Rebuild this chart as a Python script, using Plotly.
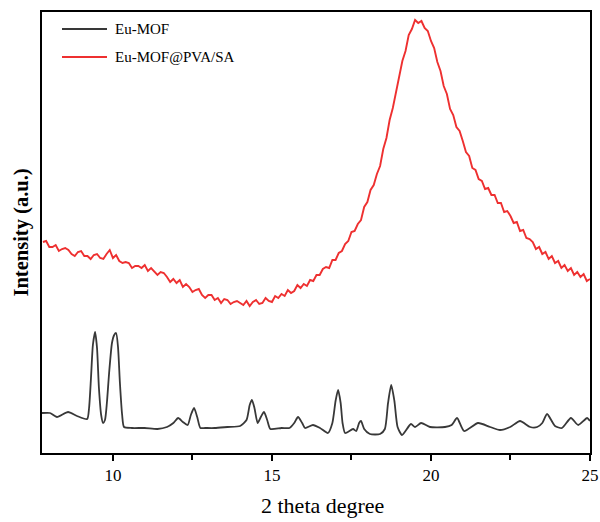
import plotly.graph_objects as go

# Eu-MOF (black) pattern
mof_x = [7.77, 8.02, 8.24, 8.59, 8.87, 9.19, 9.25, 9.31, 9.37, 9.44, 9.50, 9.56, 9.63, 9.69, 9.75, 9.81,
         9.88, 9.97, 10.04, 10.10, 10.16, 10.22, 10.29, 10.35, 10.6, 11.0, 11.4, 11.7, 11.9, 12.05, 12.2,
         12.35, 12.45, 12.55, 12.65, 12.75, 12.9, 13.2, 13.6, 14.0, 14.2, 14.3, 14.37, 14.45, 14.55, 14.65,
         14.75, 14.85, 14.95, 15.3, 15.55, 15.7, 15.82, 15.95, 16.04, 16.29, 16.51, 16.76, 16.9, 17.0, 17.08,
         17.16, 17.22, 17.30, 17.55, 17.65, 17.74, 17.80, 17.9, 18.08, 18.40, 18.55, 18.65, 18.75, 18.85,
         18.95, 19.09, 19.37, 19.50, 19.69, 19.97, 20.44, 20.65, 20.82, 21.04, 21.48, 21.86, 22.17, 22.49,
         22.80, 23.12, 23.34, 23.50, 23.65, 23.90, 24.12, 24.40, 24.63, 24.91, 25.0]
mof_y = [40, 40, 36, 41, 37, 34, 45, 75, 108, 121, 105, 65, 38, 30, 33, 50,
         80, 110, 118, 120, 106, 70, 38, 26, 25, 25, 24, 26, 30, 35, 31,
         28, 38, 45, 36, 25, 25, 25, 26, 27, 33, 48, 53, 45, 30, 36,
         41, 33, 24, 25, 25, 30, 36, 30, 25, 28, 25, 20, 30, 52, 63,
         50, 30, 20, 24, 22, 30, 32, 24, 19, 19, 24, 50, 68, 52,
         26, 18, 29, 26, 30, 26, 26, 28, 35, 22, 30, 26, 23, 26,
         32, 26, 26, 30, 39, 27, 25, 35, 28, 35, 32]

# Eu-MOF@PVA/SA (red) pattern, step 0.1 deg from 7.8 to 25.0
comp_x = [round(7.8 + 0.1 * i, 1) for i in range(173)]
comp_y = [211, 212, 206, 206, 208, 202, 204, 205, 203, 199, 197, 201, 202, 197, 197, 194, 198, 199, 195, 194,
          199, 203, 195, 198, 192, 190, 191, 190, 185, 187, 187, 185, 188, 182, 185, 181, 178, 181, 180, 176,
          171, 174, 170, 173, 166, 169, 166, 161, 163, 164, 158, 155, 158, 158, 153, 155, 150, 154, 153, 149,
          151, 152, 150, 148, 152, 147, 151, 153, 149, 150, 155, 152, 151, 157, 155, 159, 157, 163, 160, 162,
          168, 165, 169, 167, 173, 172, 178, 178, 184, 186, 185, 193, 193, 200, 202, 209, 212, 221, 222, 229,
          233, 246, 251, 263, 268, 279, 287, 304, 315, 333, 345, 362, 375, 392, 402, 418, 424, 433, 430, 432,
          425, 422, 412, 405, 391, 382, 367, 359, 344, 338, 326, 322, 312, 301, 297, 285, 283, 274, 272, 264,
          265, 258, 258, 250, 250, 241, 242, 237, 230, 231, 222, 223, 215, 214, 211, 204, 206, 199, 201, 194,
          197, 190, 192, 185, 188, 182, 185, 178, 181, 176, 179, 172, 174]

x_ticks = [10, 15, 20, 25]
x_ticklabels = ["10", "15", "20", "25"]
minor_ticks = [12.5, 17.5, 22.5]

legend_names = ["Eu-MOF", "Eu-MOF@PVA/SA"]
colors = ["#383838", "#ee3030"]

serif = "Liberation Serif, Times New Roman, serif"

fig = go.Figure()
fig.add_trace(go.Scatter(x=mof_x, y=mof_y, mode="lines", name=legend_names[0], showlegend=False,
                         line=dict(color=colors[0], width=1.8, shape="spline", smoothing=0.6)))
fig.add_trace(go.Scatter(x=comp_x, y=comp_y, mode="lines", name=legend_names[1], showlegend=False,
                         line=dict(color=colors[1], width=1.9)))

# manual legend (line sample + text)
leg_y = [0.9615, 0.8980]
shapes = []
annotations = []
for name, col, yy in zip(legend_names, colors, leg_y):
    shapes.append(dict(type="line", xref="paper", yref="paper", x0=0.0365, x1=0.1186, y0=yy, y1=yy,
                       line=dict(color=col, width=2)))
    annotations.append(dict(xref="paper", yref="paper", x=0.1296, y=yy, xanchor="left", yanchor="middle",
                            text=name, showarrow=False, font=dict(family=serif, size=15, color="black")))

annotations.append(dict(xref="paper", yref="paper", x=0.511, y=-0.118, xanchor="center", yanchor="middle",
                        text="2 theta degree", showarrow=False, font=dict(family=serif, size=22, color="black")))
annotations.append(dict(xref="paper", yref="paper", x=-0.0375, y=0.501, xanchor="center", yanchor="middle",
                        textangle=-90, text="<b>Intensity (a.u.)</b>", showarrow=False,
                        font=dict(family=serif, size=20.5, color="black")))

fig.update_layout(
    width=600, height=522,
    margin=dict(l=42, r=10, t=12, b=69),
    paper_bgcolor="white", plot_bgcolor="white",
    font=dict(family=serif, color="black"),
    showlegend=False,
    shapes=shapes,
    annotations=annotations,
    xaxis=dict(range=[7.77, 25], tickvals=x_ticks, ticktext=x_ticklabels, automargin=False,
               ticks="outside", ticklen=6, tickwidth=1.5, tickcolor="black",
               minor=dict(tickvals=minor_ticks, ticks="outside", ticklen=5, tickwidth=1.5, tickcolor="black"),
               showline=True, linecolor="black", linewidth=2, mirror=True, showgrid=False, zeroline=False,
               tickfont=dict(family=serif, size=17, color="black")),
    yaxis=dict(range=[0, 441], showticklabels=False, ticks="", automargin=False,
               showline=True, linecolor="black", linewidth=2, mirror=True, showgrid=False, zeroline=False),
)

fig.write_html("out.html")
